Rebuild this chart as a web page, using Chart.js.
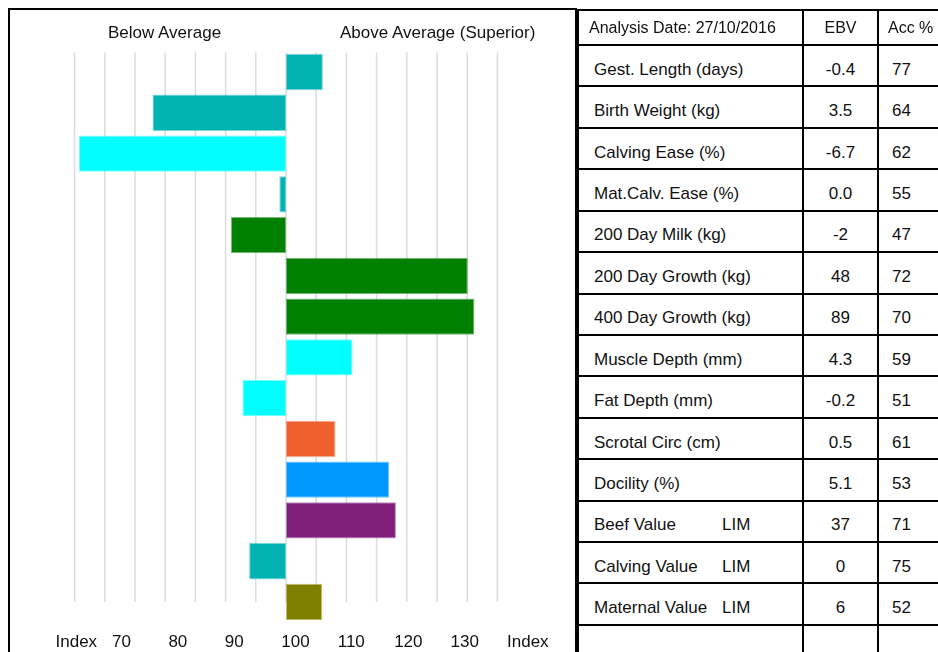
<!DOCTYPE html>
<html>
<head>
<meta charset="utf-8">
<script src="https://cdn.jsdelivr.net/npm/chart.js@4.4.1/dist/chart.umd.min.js"></script>
<style>
  body { margin: 0; width: 938px; height: 652px; overflow: hidden; background: #fff;
         font-family: "Liberation Sans", Arial, sans-serif; color: #111; position: relative; }
  #panel { position: absolute; left: 8px; top: 8px; width: 565px; height: 700px; border: 2px solid #000; }
  #chart { position: absolute; left: 0; top: 0; }
  .head { position: absolute; top: 23px; font-size: 17px; line-height: 20px; white-space: nowrap; }
  #ebvTable { position: absolute; left: 577px; top: 9px; border-collapse: collapse; table-layout: fixed; width: 380px; }
  #ebvTable td { border: 2px solid #000; padding: 0; font-size: 17px; white-space: nowrap; overflow: hidden; }
  #ebvTable tr.hdr td { font-size: 16px; height: 33px; }
  #ebvTable tr.row td { height: 31.43px; padding-top: 8px; padding-bottom: 0; }
  #ebvTable td.name { padding-left: 15px; }
  #ebvTable tr.hdr td.name { padding-left: 10px; }
  #ebvTable td.ebv { text-align: center; }
  #ebvTable td.acc { padding-left: 13px; }
  #ebvTable tr.hdr td.acc { padding-left: 9px; }
  .trait { display: inline-block; width: 128px; }
</style>
</head>
<body>
<div id="panel"></div>
<canvas id="chart" width="576" height="652"></canvas>
<div class="head" style="left:108px">Below Average</div>
<div class="head" style="left:340px">Above Average (Superior)</div>
<table id="ebvTable">
  <colgroup><col style="width:225px"><col style="width:75px"><col style="width:80px"></colgroup>
  <tbody id="ebvBody"></tbody>
</table>
<script>
// Données
const analysisDate = '27/10/2016';
const traits = ['Gest. Length (days)', 'Birth Weight (kg)', 'Calving Ease (%)', 'Mat.Calv. Ease (%)',
  '200 Day Milk (kg)', '200 Day Growth (kg)', '400 Day Growth (kg)', 'Muscle Depth (mm)',
  'Fat Depth (mm)', 'Scrotal Circ (cm)', 'Docility (%)', 'Beef Value', 'Calving Value', 'Maternal Value'];
const breedTag = ['', '', '', '', '', '', '', '', '', '', '', 'LIM', 'LIM', 'LIM'];
const ebv = ['-0.4', '3.5', '-6.7', '0.0', '-2', '48', '89', '4.3', '-0.2', '0.5', '5.1', '37', '0', '6'];
const acc = [77, 64, 62, 55, 47, 72, 70, 59, 51, 61, 53, 71, 75, 52];
const indexValues = [106.1, 77.9, 65.7, 98.9, 90.9, 130.1, 131.2, 111.0, 92.8, 108.2, 117.1, 118.2, 93.9, 106.0];
const barColors = ['#00b2b2', '#00b2b2', '#00ffff', '#00b2b2', '#008000', '#008000', '#008000',
  '#00ffff', '#00ffff', '#f0602e', '#0099ff', '#7f1f7c', '#00b2b2', '#808000'];
const indexLabels = ['Index', '70', '80', '90', '100', '110', '120', '130', 'Index'];
const gridValues = [65, 70, 75, 80, 85, 90, 95, 100, 105, 110, 115, 120, 125, 130, 135];
const baseline = 100;

// Tableau EBV
const tbody = document.getElementById('ebvBody');
let html = `<tr class="hdr"><td class="name">Analysis Date: ${analysisDate}</td><td class="ebv">EBV</td><td class="acc">Acc %</td></tr>`;
for (let i = 0; i < traits.length; i++) {
    const name = breedTag[i] ? `<span class="trait">${traits[i]}</span>${breedTag[i]}` : traits[i];
    html += `<tr class="row"><td class="name">${name}</td><td class="ebv">${ebv[i]}</td><td class="acc">${acc[i]}</td></tr>`;
}
html += `<tr class="row"><td class="name"></td><td class="ebv"></td><td class="acc"></td></tr>`;
tbody.innerHTML = html;

// Grille verticale (s'arrête au milieu de la dernière barre)
const indexGrid = {
    id: 'indexGrid',
    beforeDatasetsDraw(chart) {
        const { ctx, chartArea, scales } = chart;
        const yEnd = scales.y.getPixelForValue(traits.length - 1);
        ctx.save();
        ctx.strokeStyle = '#dcdcdc';
        ctx.lineWidth = 1.5;
        gridValues.forEach(v => {
            const x = scales.x.getPixelForValue(v);
            ctx.beginPath();
            ctx.moveTo(x, chartArea.top + 1);
            ctx.lineTo(x, yEnd);
            ctx.stroke();
        });
        ctx.restore();
    }
};

const font = { family: '"Liberation Sans", Arial, sans-serif', size: 17 };

new Chart(document.getElementById('chart'), {
    type: 'bar',
    data: {
        labels: traits,
        datasets: [{
            data: indexValues.map(v => [baseline, v]),
            backgroundColor: barColors,
            borderColor: barColors.map(c => c + '88'),
            borderWidth: 1,
            borderSkipped: false,
            barPercentage: 0.89,
            categoryPercentage: 1
        }]
    },
    options: {
        indexAxis: 'y',
        responsive: false,
        animation: false,
        layout: { padding: { left: 55.5, right: 69, top: 51.6, bottom: 0 } },
        plugins: { legend: { display: false }, tooltip: { enabled: false } },
        scales: {
            x: { type: 'linear', min: 61.84, max: 136.59, display: false },
            xl: {
                type: 'category',
                labels: indexLabels,
                position: 'bottom',
                offset: false,
                grid: { display: false, drawTicks: false },
                border: { display: false },
                ticks: { align: 'start', padding: 10, color: '#111', font: font, maxRotation: 0, autoSkip: false },
                afterFit: s => { s.height = 29.6; }
            },
            y: { type: 'category', display: false }
        }
    },
    plugins: [indexGrid]
});
</script>
</body>
</html>
